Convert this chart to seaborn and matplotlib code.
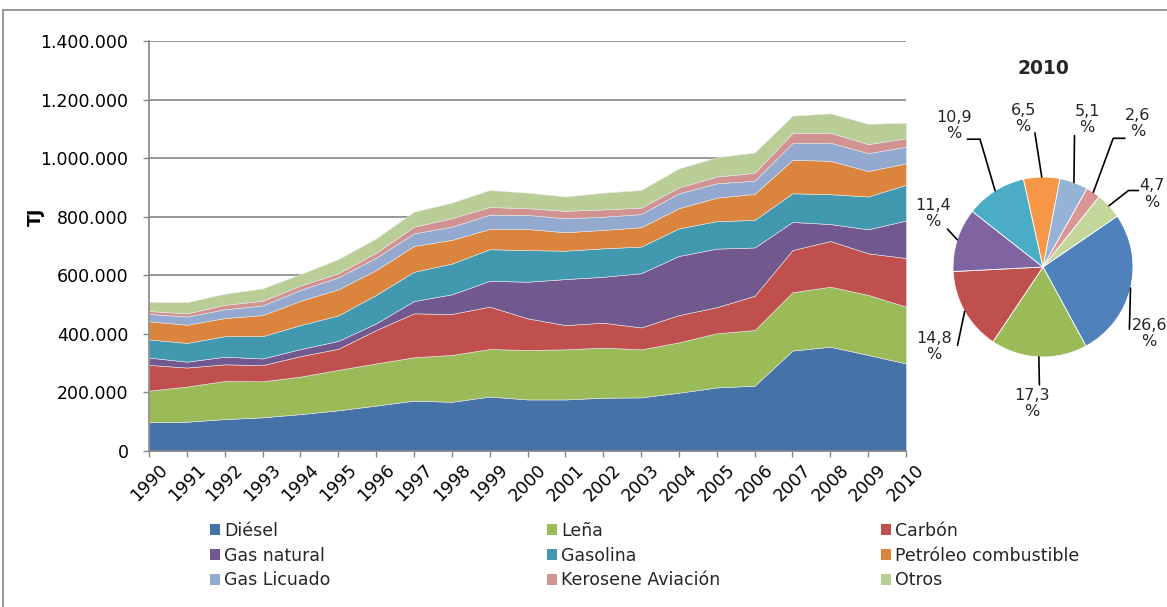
import matplotlib
matplotlib.use("Agg")
import matplotlib.pyplot as plt
import numpy as np
import seaborn as sns
from matplotlib.patches import Patch
from matplotlib.lines import Line2D
from matplotlib.ticker import FuncFormatter

# ---------------- data (TJ) ----------------
years = list(range(1990, 2011))
series_names = ["Diésel", "Leña", "Carbón", "Gas natural", "Gasolina",
                "Petróleo combustible", "Gas Licuado", "Kerosene Aviación", "Otros"]

diesel = [98000, 100000, 109000, 115000, 126000, 139000, 155000, 172000, 168000, 186000, 176000,
          176000, 182000, 183000, 199000, 217000, 223000, 343000, 356000, 328000, 299000]
lena = [108000, 120000, 130000, 123000, 128000, 138000, 144000, 148000, 160000, 162000, 169000,
        171000, 171000, 164000, 172000, 185000, 190000, 199000, 205000, 205000, 194000]
carbon = [88000, 65000, 57000, 55000, 70000, 72000, 114000, 150000, 140000, 145000, 108000,
          83000, 85000, 75000, 93000, 89000, 117000, 144000, 156000, 142000, 166000]
gas_natural = [25000, 20000, 26000, 23000, 24000, 27000, 23000, 42000, 67000, 88000, 125000,
               157000, 157000, 185000, 202000, 200000, 165000, 96000, 58000, 82000, 128000]
gasolina = [62000, 64000, 70000, 76000, 82000, 87000, 97000, 100000, 105000, 108000, 108000,
            97000, 97000, 91000, 94000, 94000, 94000, 98000, 102000, 112000, 122000]
petroleo = [62000, 62000, 62000, 72000, 83000, 89000, 85000, 88000, 81000, 69000, 72000,
            63000, 63000, 66000, 69000, 80000, 89000, 114000, 114000, 87000, 73000]
gas_licuado = [25000, 28000, 30000, 33000, 37000, 41000, 42000, 43000, 45000, 49000, 48000,
               48000, 45000, 45000, 51000, 49000, 45000, 57000, 62000, 61000, 57000]
kerosene = [10000, 11000, 15000, 16000, 15000, 14000, 17000, 23000, 29000, 26000, 23000,
            25000, 25000, 22000, 20000, 23000, 27000, 34000, 34000, 31000, 29000]
otros = [31000, 38000, 38000, 42000, 39000, 48000, 49000, 51000, 53000, 58000, 53000,
         49000, 57000, 60000, 65000, 66000, 69000, 60000, 66000, 69000, 53000]

pie_year = "2010"
pie_pct = [26.6, 17.3, 14.8, 11.4, 10.9, 6.5, 5.1, 2.6, 4.7]
y_ticks = [0, 200000, 400000, 600000, 800000, 1000000, 1200000, 1400000]

# ---------------- style ----------------
sns.set_theme(style="white")
plt.rcParams["font.family"] = ["DejaVu Sans"]

area_colors = ["#4572A7", "#9BBB59", "#C0504D", "#71588F", "#4198AF",
               "#DB843D", "#93A9CF", "#D19392", "#B9CD96"]
pie_colors = ["#4F81BD", "#9BBB59", "#C0504D", "#8064A2", "#4BACC6",
              "#F79646", "#95B3D7", "#DA9694", "#C4D79B"]
grey = "#868686"

W, H = 1167, 607
fig = plt.figure(figsize=(W / 100, H / 100), dpi=100)
fig.patch.set_facecolor("white")

# outer frame (only top and left visible in reference)
fig.add_artist(Line2D([3 / W, 3 / W], [0, 1 - 10 / H], transform=fig.transFigure, color=grey, lw=1.2))
fig.add_artist(Line2D([3 / W, 1], [1 - 10 / H, 1 - 10 / H], transform=fig.transFigure, color=grey, lw=1.2))

# ---------------- stacked area ----------------
ax = fig.add_axes([149 / W, 1 - 451 / H, (906 - 149) / W, (451 - 41) / H])
stack = [diesel, lena, carbon, gas_natural, gasolina, petroleo, gas_licuado, kerosene, otros]
ax.stackplot(years, *stack, colors=area_colors, lw=0.4, edgecolor="#e8e8e8", zorder=2)
ax.set_xlim(years[0], years[-1])
ax.set_ylim(y_ticks[0], y_ticks[-1])
ax.set_yticks(y_ticks)
ax.set_xticks(years)
ax.yaxis.set_major_formatter(FuncFormatter(lambda v, p: f"{int(v):,}".replace(",", ".")))
ax.set_xticklabels([str(y) for y in years], rotation=45, ha="center")
ax.yaxis.grid(True, color=grey, lw=1.2, zorder=0)
ax.xaxis.grid(False)
ax.set_axisbelow(True)
for s in ["top", "right"]:
    ax.spines[s].set_visible(False)
for s in ["left", "bottom"]:
    ax.spines[s].set_color(grey)
    ax.spines[s].set_linewidth(1.2)
ax.tick_params(axis="y", length=4.3, width=1, color=grey, pad=10.5, labelsize=12.5, labelcolor="black", left=True)
ax.tick_params(axis="x", length=4, width=1, color=grey, pad=3, labelsize=12.5, labelcolor="black", bottom=True)
ax.set_facecolor("white")

fig.text(36 / W, 1 - 217 / H, "TJ", rotation=90, ha="center", va="center",
         fontsize=12.5, fontweight="bold", color="black")

# ---------------- legend (3 columns, row-wise order) ----------------
col_x = [210, 547, 881]
for c in range(3):
    idx = [c, c + 3, c + 6]
    handles = [Patch(facecolor=area_colors[i], edgecolor="none") for i in idx]
    labels = [series_names[i] for i in idx]
    fig.legend(handles, labels, loc="upper left", bbox_to_anchor=(col_x[c] / W, 1 - 522 / H),
               frameon=False, fontsize=12.5, handlelength=0.55, handleheight=0.6,
               handletextpad=0.25, labelspacing=0.38, borderpad=0, borderaxespad=0)

# ---------------- pie ----------------
cx, cy, r = 1043, 267, 90
pax = fig.add_axes([(cx - r) / W, (H - cy - r) / H, 2 * r / W, 2 * r / H])
start = 34.4
wedges, _ = pax.pie(pie_pct, colors=pie_colors, startangle=start, counterclock=False, radius=1,
                    wedgeprops=dict(edgecolor="white", linewidth=0.6))
pax.set_xlim(-1, 1)
pax.set_ylim(-1, 1)
pax.set_aspect("equal")
pax.axis("off")

# label positions / leader bends (layout, in units of the pie radius)
label_xy = [(1.18, -0.74), (-0.12, -1.52), (-1.21, -0.88), (-1.22, 0.59), (-0.99, 1.57),
            (-0.22, 1.65), (0.49, 1.64), (1.05, 1.59), (1.21, 0.81)]
leader_pts = [[(0.96, -0.69)], [(-0.04, -1.31)], [(-0.95, -0.87)], [(-1.06, 0.42)],
              [(-0.84, 1.42), (-0.70, 1.42)], [(-0.09, 1.49)], [(0.35, 1.46)],
              [(0.91, 1.43), (0.78, 1.43)], [(1.06, 0.85), (0.95, 0.85)]]
total = sum(pie_pct)
acc = 0.0
for i, p in enumerate(pie_pct):
    mid = np.deg2rad(start - (acc + p / 2) / total * 360)
    acc += p
    ex, ey = np.cos(mid), np.sin(mid)
    pts = leader_pts[i] + [(ex, ey)]
    pax.plot([q[0] for q in pts], [q[1] for q in pts], color="black", lw=1.2, clip_on=False)
    pax.text(label_xy[i][0], label_xy[i][1], f"{p:.1f}".replace(".", ",") + "\n%",
             ha="center", va="center", fontsize=11.5, linespacing=1.1, clip_on=False)

fig.text(cx / W, 1 - 68 / H, pie_year, ha="center", va="center", fontsize=13.5, fontweight="bold")

fig.savefig("out.png", dpi=100, facecolor="white")
